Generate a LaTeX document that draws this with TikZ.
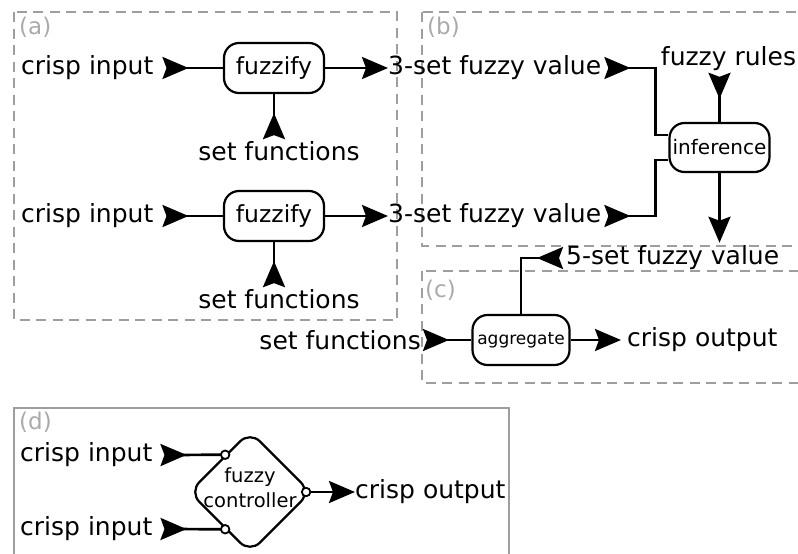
\documentclass[tikz,border=0pt]{standalone}
\usepackage{fontspec}
\setmainfont{DejaVu Sans}
\usetikzlibrary{arrows.meta,decorations.markings,shapes.geometric,calc}
\definecolor{boxgray}{RGB}{158,158,158}
\definecolor{labgray}{RGB}{170,170,170}
\tikzset{
  endhead/.style={-{Stealth[length=26pt,width=22pt,inset=4pt]}},
  lbl/.style={inner sep=0pt, font=\fontsize{25}{30}\selectfont},
  tag/.style={inner sep=0pt, anchor=north west, text=labgray, font=\fontsize{23}{27}\selectfont},
  proc/.style={draw, line width=2.2pt, rounded corners=15pt, minimum width=100pt, minimum height=50pt, inner sep=0pt},
  conn/.style={line width=2.7pt},
  headat/.style={postaction={decorate,decoration={markings,mark=at position #1 with {\arrow{Stealth[length=26pt,width=22pt,inset=4pt]}}}}},
  grp/.style={draw=boxgray, line width=2.4pt, dash pattern=on 10pt off 6.5pt},
  frame/.style={draw=boxgray, line width=2.4pt},
  port/.style={circle, draw, fill=white, line width=1.8pt, inner sep=0pt, minimum size=8.5pt},
}
\begin{document}
\begin{tikzpicture}[x=1pt, y=-1pt]
\useasboundingbox (0,0) rectangle (798,554);
\clip (0,0) rectangle (798,554);
% group boxes
\draw[grp] (14,12) rectangle (397,320);
\draw[grp] (422,12) rectangle (812,246);
\draw[grp] (422,271) rectangle (812,383);
\draw[frame] (14,408) rectangle (509,575);
\node[tag] (ta) at (19,17) {(a)};
\node[tag] (tb) at (427,17) {(b)};
\node[tag] (tc) at (425,280) {(c)};
\node[tag] (td) at (19,412) {(d)};

% (a)
\node[lbl, anchor=west] (ci1) at (21,68) {crisp input};
\node[proc, font=\fontsize{23.5}{27}\selectfont] (fz1) at (274,68) {fuzzify};
\node[lbl, anchor=west] (fv1) at (388,68) {3-set fuzzy value};
\node[lbl] (sf1) at (279,151) {set functions};
\node[lbl, anchor=west] (ci2) at (21,216) {crisp input};
\node[proc, font=\fontsize{23.5}{27}\selectfont] (fz2) at (274,216) {fuzzify};
\node[lbl, anchor=west] (fv2) at (388,216) {3-set fuzzy value};
\node[lbl] (sf2) at (279,299) {set functions};

\draw[conn, headat=22pt] ([xshift=13pt]ci1.east) -- (fz1.west);
\draw[conn, headat=22pt] ([xshift=13pt]ci2.east) -- (fz2.west);
\draw[conn, endhead] (fz1) -- (fv1.west);
\draw[conn, endhead] (fz2) -- (fv2.west);
\draw[conn, headat=22pt] ($(fz1.south |- sf1.north)+(0,-6)$) -- (fz1.south);
\draw[conn, headat=22pt] ($(fz2.south |- sf2.north)+(0,-6)$) -- (fz2.south);

% (b)
\node[proc, minimum height=49pt, font=\fontsize{20}{24}\selectfont] (inf) at (719.5,147.5) {inference};
\node[lbl] (fr) at (728.5,58.5) {fuzzy rules};
\node[lbl, anchor=west] (fv5) at (566,258) {5-set fuzzy value};
\draw[conn, headat=22pt] ([xshift=7pt]fv1.east) -| ([xshift=-13pt,yshift=12.5pt]inf.west) -- ([yshift=12.5pt]inf.west);
\draw[conn, headat=22pt] ([xshift=7pt]fv2.east) -| ([xshift=-13pt,yshift=-12.5pt]inf.west) -- ([yshift=-12.5pt]inf.west);
\draw[conn, headat=21pt] ($(inf.north |- fr.south)+(0,7)$) -- (inf.north);
\draw[conn, endhead] (inf.south) -- ($(inf.south |- fv5.north)+(0,-3)$);

% (c)
\node[proc, minimum width=97pt, font=\fontsize{17}{20}\selectfont] (agg) at (521,340) {aggregate};
\node[lbl, anchor=east] (sf3) at (421,340) {set functions};
\node[lbl, anchor=west] (co) at (627,340) {crisp output};
\draw[conn, headat=22pt] ([xshift=-7pt]fv5.west) -| (agg.north);
\draw[conn, headat=22pt] ([xshift=6pt]sf3.east) -- (agg.west);
\draw[conn, endhead] (agg) -- ([xshift=-6pt]co.west);

% (d)
\node[lbl, anchor=west] (cd1) at (20,455) {crisp input};
\node[lbl, anchor=west] (cd2) at (20,529) {crisp input};
\node[diamond, draw, line width=2.2pt, rounded corners=14pt, minimum width=122pt, minimum height=122pt, inner sep=0pt] (fc) at (250,492) {};
\node[inner sep=0pt, align=center, font=\fontsize{19.5}{25}\selectfont] (fcl) at (250,488) {fuzzy\\controller};
\node[lbl, anchor=west] (cod) at (355,492) {crisp output};
\coordinate (p1) at ($(fc.west)!0.6!(fc.north)$);
\coordinate (p2) at ($(fc.west)!0.6!(fc.south)$);
\coordinate (p3) at ([xshift=-6pt]fc.east);
\draw[conn, headat=21pt] ([xshift=13pt]cd1.east) -- (p1);
\draw[conn, headat=21pt] ([xshift=13pt]cd2.east) -- (p2);
\draw[conn, endhead] (p3) -- (cod.west);
\node[port] (p1c) at (p1) {};
\node[port] (p2c) at (p2) {};
\node[port] (p3c) at (p3) {};
\end{tikzpicture}
\end{document}
